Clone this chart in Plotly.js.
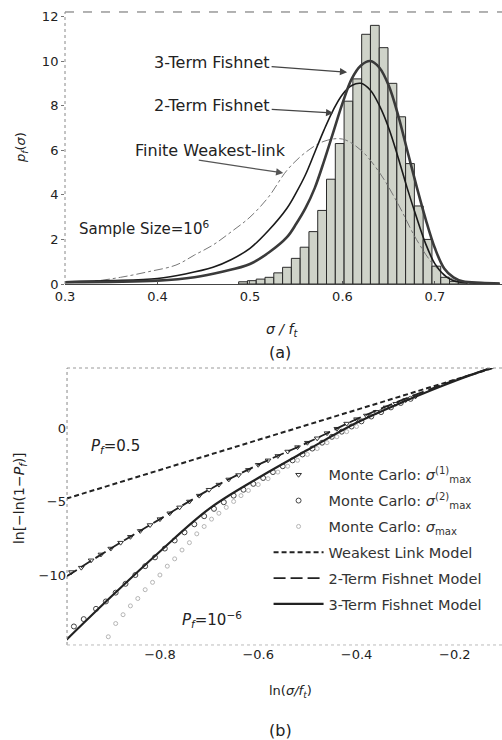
<!DOCTYPE html>
<html>
<head>
<meta charset="utf-8">
<script src="https://cdn.plot.ly/plotly-3.0.1.min.js"></script>
<style>html,body{margin:0;padding:0;background:#fff}#chart{width:502px;height:740px}</style>
</head>
<body>
<div id="chart"></div>
<script>
// ---------- Panel (a): histogram of sigma/f_t ----------
const histCenters = [0.4925,0.502,0.5115,0.521,0.5305,0.540,0.5495,0.559,0.5685,0.578,0.5875,0.597,0.6065,0.616,0.6255,0.635,0.6445,0.654,0.6635,0.673,0.6825,0.692,0.7015,0.711,0.7205,0.730];
const histValues  = [0.10,0.15,0.22,0.30,0.50,0.75,1.15,1.65,2.35,3.30,4.70,6.30,8.20,9.20,11.2,11.6,10.6,9.00,7.50,5.40,3.50,2.00,0.80,0.30,0.12,0.05];

const wlA_x = [0.30,0.33,0.36,0.39,0.42,0.44,0.46,0.48,0.50,0.52,0.54,0.56,0.58,0.60,0.62,0.64,0.66,0.68,0.70,0.72,0.74];
const wlA_y = [0.05,0.12,0.30,0.55,0.85,1.30,1.75,2.35,3.00,3.90,5.10,5.90,6.40,6.50,6.00,5.00,3.60,2.00,0.80,0.20,0.05];

const f2A_x = [0.30,0.35,0.40,0.43,0.46,0.48,0.50,0.52,0.54,0.55,0.56,0.57,0.58,0.59,0.60,0.61,0.62,0.63,0.64,0.65,0.66,0.67,0.68,0.69,0.70,0.71,0.72,0.74,0.77];
const f2A_y = [0.10,0.15,0.25,0.45,0.75,1.10,1.60,2.40,3.40,4.10,4.90,5.90,6.90,7.80,8.50,8.90,9.00,8.70,8.00,7.00,5.70,4.30,3.00,1.80,0.90,0.40,0.15,0.05,0.02];

const f3A_x = [0.30,0.40,0.44,0.47,0.50,0.52,0.54,0.55,0.56,0.57,0.58,0.59,0.60,0.61,0.62,0.63,0.64,0.65,0.66,0.67,0.68,0.69,0.70,0.71,0.72,0.73,0.75,0.77];
const f3A_y = [0.08,0.15,0.30,0.55,0.90,1.40,2.10,2.70,3.40,4.30,5.50,6.80,8.10,9.20,9.80,10.0,9.70,8.90,7.60,6.00,4.40,2.90,1.60,0.70,0.30,0.12,0.05,0.02];

// ---------- Panel (b): Weibull plot ----------
const mc1_x = [-0.98,-0.96,-0.94,-0.92,-0.90,-0.88,-0.86,-0.84,-0.82,-0.80,-0.78,-0.76,-0.74,-0.72,-0.70,-0.68,-0.66,-0.64,-0.62,-0.60,-0.58,-0.56,-0.54,-0.52,-0.50,-0.48,-0.46,-0.44,-0.42,-0.40,-0.38,-0.36,-0.34,-0.32,-0.30,-0.28];
const mc1_y = [-9.8,-9.5,-9.0,-8.6,-8.2,-7.8,-7.4,-7.0,-6.6,-6.2,-5.8,-5.4,-5.0,-4.6,-4.2,-3.85,-3.5,-3.2,-2.85,-2.5,-2.2,-1.9,-1.6,-1.3,-1.0,-0.7,-0.35,-0.05,0.3,0.6,0.85,1.1,1.4,1.65,1.9,2.15];

const mc2_x = [-0.975,-0.955,-0.93,-0.91,-0.89,-0.87,-0.85,-0.83,-0.81,-0.79,-0.77,-0.75,-0.73,-0.71,-0.69,-0.67,-0.65,-0.63,-0.61,-0.59,-0.57,-0.55,-0.53,-0.51,-0.49,-0.47,-0.45,-0.43,-0.41,-0.39,-0.37,-0.35,-0.33,-0.31,-0.29];
const mc2_y = [-13.5,-13.0,-12.3,-11.8,-11.2,-10.6,-10.0,-9.4,-8.8,-8.2,-7.65,-7.1,-6.55,-6.0,-5.5,-5.05,-4.6,-4.2,-3.8,-3.4,-3.0,-2.6,-2.2,-1.8,-1.4,-1.0,-0.6,-0.25,0.1,0.45,0.78,1.08,1.4,1.7,1.98];

const mc_x = [-0.905,-0.89,-0.875,-0.86,-0.845,-0.83,-0.815,-0.80,-0.785,-0.77,-0.755,-0.74,-0.725,-0.71,-0.695,-0.68,-0.665,-0.65,-0.635,-0.62,-0.60,-0.58,-0.56,-0.54,-0.52,-0.50,-0.48,-0.46,-0.44,-0.42,-0.40];
const mc_y = [-14.2,-13.3,-12.7,-12.1,-11.6,-11.0,-10.5,-10.0,-9.4,-8.9,-8.3,-7.8,-7.2,-6.7,-6.2,-5.8,-5.4,-5.0,-4.6,-4.25,-3.85,-3.45,-3.0,-2.6,-2.2,-1.8,-1.4,-1.0,-0.6,-0.25,0.1];

const wlB_x = [-0.99,-0.8,-0.6,-0.4,-0.2,-0.12];
const wlB_y = [-4.8,-2.85,-0.8,1.25,3.3,4.1];
const fB_x  = [-0.99,-0.9,-0.8,-0.7,-0.6,-0.5,-0.4,-0.3,-0.2,-0.12];
const f2B_y = [-10.1,-8.2,-6.2,-4.2,-2.5,-1.0,0.6,2.0,3.25,4.15];
const f3B_y = [-14.4,-11.5,-8.4,-5.5,-3.4,-1.5,0.35,1.85,3.2,4.15];

const legendNames = [
  'Monte Carlo: <i>σ</i><sup>(1)</sup><sub>max</sub>',
  'Monte Carlo: <i>σ</i><sup>(2)</sup><sub>max</sub>',
  'Monte Carlo: <i>σ</i><sub>max</sub>',
  'Weakest Link Model',
  '2-Term Fishnet Model',
  '3-Term Fishnet Model'
];

const FONT = 'DejaVu Sans, sans-serif';
const INK = '#222';

const traces = [
  {type:'scatter', mode:'lines', x:wlA_x, y:wlA_y, xaxis:'x', yaxis:'y', showlegend:false,
   line:{color:'#777', width:1, dash:'dashdot', shape:'spline'}},
  {type:'scatter', mode:'lines', x:f2A_x, y:f2A_y, xaxis:'x', yaxis:'y', showlegend:false,
   line:{color:'#1a1a1a', width:1.6, shape:'spline'}},
  {type:'bar', x:histCenters, y:histValues, width:0.0095, xaxis:'x', yaxis:'y', showlegend:false,
   marker:{color:'rgba(196,201,189,0.82)', line:{color:'#2a2a2a', width:1}}},
  {type:'scatter', mode:'lines', x:f3A_x, y:f3A_y, xaxis:'x', yaxis:'y', showlegend:false,
   line:{color:'#3a3a3a', width:2.6, shape:'spline'}},

  {type:'scatter', mode:'markers', x:mc1_x, y:mc1_y, xaxis:'x2', yaxis:'y2', name:legendNames[0], legendgroup:'g1',
   marker:{symbol:'triangle-down-open', size:5, color:'#333', line:{width:1}}},
  {type:'scatter', mode:'markers', x:mc2_x, y:mc2_y, xaxis:'x2', yaxis:'y2', name:legendNames[1], legendgroup:'g2',
   marker:{symbol:'circle-open', size:5, color:'#444', line:{width:1}}},
  {type:'scatter', mode:'markers', x:mc_x, y:mc_y, xaxis:'x2', yaxis:'y2', name:legendNames[2], legendgroup:'g3',
   marker:{symbol:'circle-open', size:4, color:'#b5b5b5', line:{width:1}}},
  {type:'scatter', mode:'lines', x:wlB_x, y:wlB_y, xaxis:'x2', yaxis:'y2', name:legendNames[3], legendgroup:'g4',
   line:{color:INK, width:2, dash:'5px,3px'}},
  {type:'scatter', mode:'lines', x:fB_x, y:f2B_y, xaxis:'x2', yaxis:'y2', name:legendNames[4], legendgroup:'g5',
   line:{color:INK, width:1.8, dash:'12px,5px', shape:'spline'}},
  {type:'scatter', mode:'lines', x:fB_x, y:f3B_y, xaxis:'x2', yaxis:'y2', name:legendNames[5], legendgroup:'g6',
   line:{color:INK, width:2.2, shape:'spline'}}
];

const tickFont = {family:FONT, size:13, color:INK};
const annFont = {family:FONT, size:16, color:INK};

const layout = {
  width:502, height:740,
  margin:{l:0, r:0, t:0, b:0},
  paper_bgcolor:'#fff', plot_bgcolor:'#fff',
  showlegend:true,
  bargap:0,
  xaxis:{domain:[0.1295,1], range:[0.3,0.7725], tickvals:[0.3,0.4,0.5,0.6,0.7], ticktext:['0.3','0.4','0.5','0.6','0.7'],
         showgrid:false, zeroline:false, showline:true, linecolor:'#444', ticks:'inside', ticklen:3, tickcolor:'#555',
         tickfont:tickFont, anchor:'y'},
  yaxis:{domain:[0.6162,0.9838], range:[0,12.2], tickvals:[0,2,4,6,8,10,12],
         showgrid:false, zeroline:false, showline:false, ticks:'outside', ticklen:3, tickcolor:'#777',
         tickfont:tickFont, anchor:'x'},
  xaxis2:{domain:[0.1335,1], range:[-0.989,-0.104], tickvals:[-0.8,-0.6,-0.4,-0.2],
          showgrid:false, zeroline:false, showline:false, ticks:'', tickfont:tickFont, anchor:'y2'},
  yaxis2:{domain:[0.1284,0.5027], range:[-14.76,4.08], tickvals:[-10,-5,0],
          showgrid:false, zeroline:false, showline:false, ticks:'', tickfont:tickFont, anchor:'x2'},
  legend:{x:0.535, y:0.380, xanchor:'left', yanchor:'top', bgcolor:'rgba(0,0,0,0)',
          font:{family:FONT, size:14.5, color:'#333'}, tracegroupgap:4, itemwidth:50},
  shapes:[
    {type:'line', xref:'x domain', yref:'y domain', x0:0, x1:1, y0:1, y1:1, line:{color:'#666', width:1, dash:'dash'}},
    {type:'line', xref:'x domain', yref:'y domain', x0:0, x1:0, y0:0, y1:1, line:{color:'#888', width:1, dash:'dot'}},
    {type:'line', xref:'x2 domain', yref:'y2 domain', x0:0, x1:1, y0:1, y1:1, line:{color:'#999', width:1, dash:'dot'}},
    {type:'line', xref:'x2 domain', yref:'y2 domain', x0:0, x1:0, y0:0, y1:1, line:{color:'#888', width:1, dash:'dot'}},
    {type:'line', xref:'x2 domain', yref:'y2 domain', x0:0, x1:1, y0:0, y1:0, line:{color:'#bbb', width:1, dash:'dot'}}
  ],
  annotations:[
    {xref:'x', yref:'y', x:0.605, y:9.5, ax:-135, ay:-10, text:'3-Term Fishnet', showarrow:true,
     arrowhead:2, arrowsize:1.2, arrowwidth:1.2, arrowcolor:'#444', font:annFont},
    {xref:'x', yref:'y', x:0.590, y:7.67, ax:-121, ay:-7, text:'2-Term Fishnet', showarrow:true,
     arrowhead:2, arrowsize:1.2, arrowwidth:1.2, arrowcolor:'#444', font:annFont},
    {xref:'x', yref:'y', x:0.4578, y:6.01, text:'Finite Weakest-link', showarrow:false, font:annFont},
    {xref:'x', yref:'y', x:0.536, y:4.98, ax:-86, ay:-13, text:'', showarrow:true,
     arrowhead:2, arrowsize:1.2, arrowwidth:1.2, arrowcolor:'#555'},
    {xref:'x', yref:'y', x:0.3854, y:2.51, text:'Sample Size=10<sup>6</sup>', showarrow:false, font:{family:FONT, size:15, color:INK}},

    {xref:'x2', yref:'y2', x:-0.8895, y:-1.29, text:'<i>P<sub>f</sub></i>=0.5', showarrow:false, font:{family:FONT, size:15, color:INK}},
    {xref:'x2', yref:'y2', x:-0.694, y:-13.06, text:'<i>P<sub>f</sub></i>=10<sup>−6</sup>', showarrow:false, font:{family:FONT, size:15, color:INK}},

    {xref:'paper', yref:'paper', x:0.562, y:0.554, xanchor:'center', yanchor:'middle', text:'<i>σ / f<sub>t</sub></i>', showarrow:false, font:{family:FONT, size:14, color:INK}},
    {xref:'paper', yref:'paper', x:0.558, y:0.523, xanchor:'center', yanchor:'middle', text:'(a)', showarrow:false, font:{family:FONT, size:16, color:INK}},
    {xref:'paper', yref:'paper', x:0.044, y:0.80, xanchor:'center', yanchor:'middle', text:'<i>p<sub>f</sub></i>(<i>σ</i>)', textangle:-90, showarrow:false, font:{family:FONT, size:13, color:INK}},

    {xref:'paper', yref:'paper', x:0.578, y:0.0655, xanchor:'center', yanchor:'middle', text:'ln(<i>σ/f<sub>t</sub></i>)', showarrow:false, font:{family:FONT, size:13, color:INK}},
    {xref:'paper', yref:'paper', x:0.558, y:0.0135, xanchor:'center', yanchor:'middle', text:'(b)', showarrow:false, font:{family:FONT, size:16, color:INK}},
    {xref:'paper', yref:'paper', x:0.040, y:0.327, xanchor:'center', yanchor:'middle', text:'ln[−ln(1−<i>P<sub>f</sub></i>)]', textangle:-90, showarrow:false, font:{family:FONT, size:14, color:INK}}
  ]
};

Plotly.newPlot('chart', traces, layout, {displayModeBar:false, staticPlot:true});
</script>
</body>
</html>
